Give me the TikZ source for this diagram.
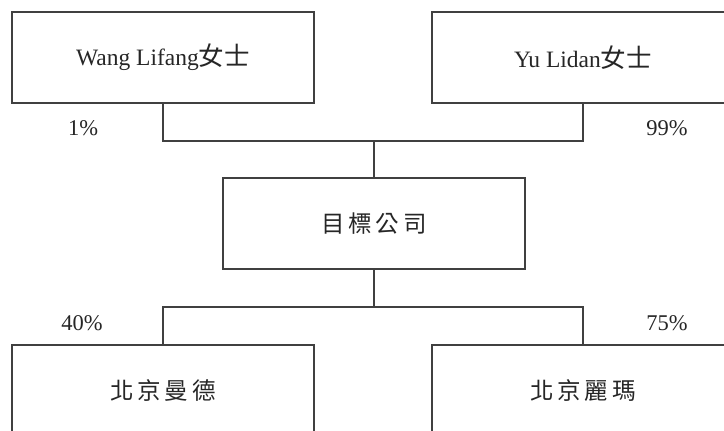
\documentclass[tikz,border=0pt]{standalone}
\usepackage{fontspec}
\setmainfont{Liberation Serif}
\newfontfamily\cjk{Noto Sans CJK TC}
\begin{document}
\begin{tikzpicture}[x=1pt,y=-1pt,
  box/.style={draw=linecol,line width=1.2pt,minimum width=302pt,minimum height=91pt,inner sep=0pt,
    font=\fontsize{23.5}{27}\selectfont,text=black!85},
  conn/.style={draw=linecol,line width=1.2pt},
  pct/.style={font=\fontsize{22.5}{26}\selectfont,text=black!85,inner sep=0pt}]
\definecolor{linecol}{HTML}{404040}
\useasboundingbox (0,0) rectangle (724,431);
\clip (0,0) rectangle (724,431);
\node[box] (tl) at (163,57.5) {Wang Lifang{\cjk\fontsize{25.5}{27}\selectfont 女士}};
\node[box] (tr) at (583,57.5) {Yu Lidan{\cjk\fontsize{25.5}{27}\selectfont 女士}};
\node[box] (mid) at (374,223.5) {\cjk 目\,標\,公\,司};
\node[box] (bl) at (163,390.5) {\cjk 北\,京\,曼\,德};
\node[box] (br) at (583,390.5) {\cjk 北\,京\,麗\,瑪};
\coordinate (jt) at (374,141);
\coordinate (jb) at (374,307);
\draw[conn] (tl.south) |- (jt) -| (tr.south);
\draw[conn] (jt) -- (mid.north);
\draw[conn] (mid.south) -- (jb);
\draw[conn] (bl.north) |- (jb) -| (br.north);
\node[pct] (p1) at (83,128) {1\%};
\node[pct] (p99) at (667,128) {99\%};
\node[pct] (p40) at (82,323) {40\%};
\node[pct] (p75) at (667,323) {75\%};
\end{tikzpicture}
\end{document}
